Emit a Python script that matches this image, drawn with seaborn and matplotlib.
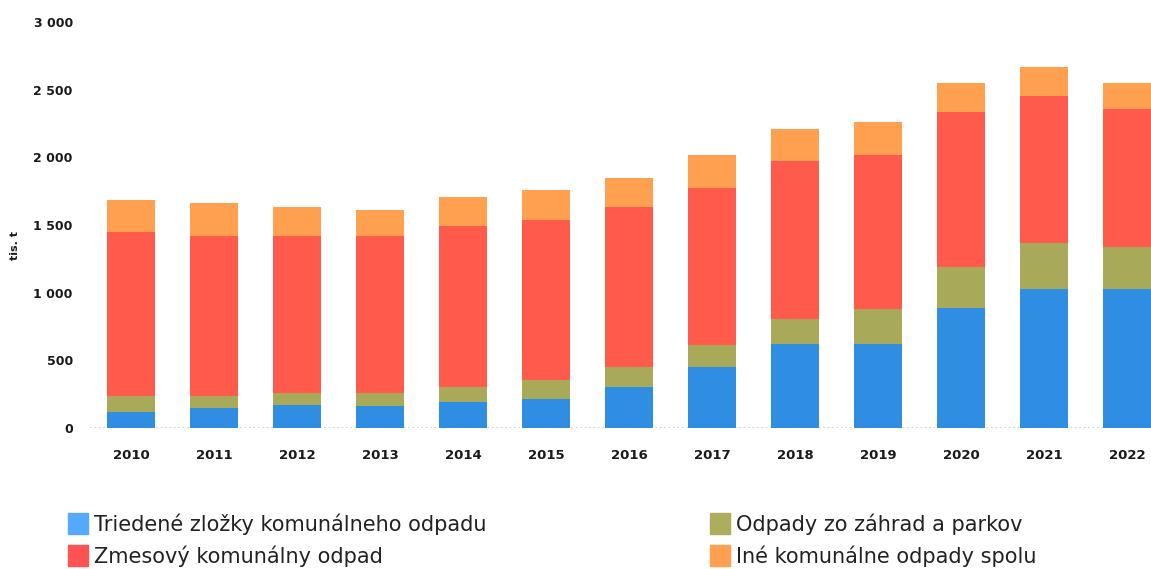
import numpy as np
import pandas as pd
import matplotlib
matplotlib.use("Agg")
import matplotlib.pyplot as plt
from matplotlib.patches import Patch
import seaborn as sns

years = ["2010", "2011", "2012", "2013", "2014", "2015", "2016",
         "2017", "2018", "2019", "2020", "2021", "2022"]
triedene = [120, 146, 170, 163, 192, 216, 305, 453, 618, 622, 889, 1029, 1029]
zahrady = [116, 90, 91, 98, 113, 141, 144, 161, 189, 258, 302, 335, 310]
zmesovy = [1210, 1183, 1158, 1158, 1185, 1182, 1184, 1163, 1166, 1137, 1143, 1088, 1015]
ine = [239, 242, 217, 192, 217, 217, 216, 242, 240, 246, 217, 218, 192]

series_names = ["Triedené zložky komunálneho odpadu", "Odpady zo záhrad a parkov",
                "Zmesový komunálny odpad", "Iné komunálne odpady spolu"]
bar_colors = ["#2F8DE2", "#A9A95A", "#FF5A4B", "#FF9F50"]
legend_colors = ["#55AAFF", "#ADAD5E", "#FF5252", "#FFA050"]

sns.set_theme(style="white")
plt.rcParams['font.family'] = ['DejaVu Sans']

fig = plt.figure(figsize=(11.51, 5.69), dpi=100)
ax = fig.add_axes([89.5 / 1151, 141 / 569, 1 - 89.5 / 1151, 406 / 569])

df = pd.DataFrame({"year": years, "s0": triedene, "s1": zahrady, "s2": zmesovy, "s3": ine})
cum = df[["s0", "s1", "s2", "s3"]].cumsum(axis=1)

# draw tallest (cumulative) first, then overlay lower stacks
for i in [3, 2, 1, 0]:
    sns.barplot(x=df["year"], y=cum.iloc[:, i], color=bar_colors[i], ax=ax,
                width=0.57, saturation=1, linewidth=0, order=years)

ax.axhline(0, color="#c8c8c8", ls=":", lw=1.2, zorder=0)
ax.set_ylim(0, 3000)
ax.set_xlim(-0.5, 12.29)
ax.set_yticks([0, 500, 1000, 1500, 2000, 2500, 3000])
ax.set_yticklabels([f"{v:,}".replace(",", " ") for v in [0, 500, 1000, 1500, 2000, 2500, 3000]],
                   fontsize=9, fontweight="bold", color="#1a1a1a")
ax.tick_params(axis="y", length=0, pad=12)
ax.tick_params(axis="x", length=0, pad=15, labelsize=9.5)
for lbl in ax.get_xticklabels():
    lbl.set_fontweight("bold")
    lbl.set_color("#1a1a1a")
ax.set_xlabel("")
ax.set_ylabel("")
for sp in ax.spines.values():
    sp.set_visible(False)

fig.text(15 / 1151, 1 - 245 / 569, "tis. t", rotation=90, fontsize=8, fontweight="bold",
         color="#1a1a1a", ha="center", va="center")

h1 = [Patch(color=legend_colors[0]), Patch(color=legend_colors[2])]
l1 = [series_names[0], series_names[2]]
h2 = [Patch(color=legend_colors[1]), Patch(color=legend_colors[3])]
l2 = [series_names[1], series_names[3]]
for hs, ls, x in [(h1, l1, 64 / 1151), (h2, l2, 706 / 1151)]:
    fig.legend(hs, ls, loc="upper left", bbox_to_anchor=(x, 1 - 509 / 569), frameon=False,
               prop={"size": 15, "weight": "normal"}, handlelength=0.95, handleheight=1.15,
               handletextpad=0.3, labelspacing=0.5, labelcolor="#222222",
               borderaxespad=0, borderpad=0.2)

fig.savefig("out.png", dpi=100)
